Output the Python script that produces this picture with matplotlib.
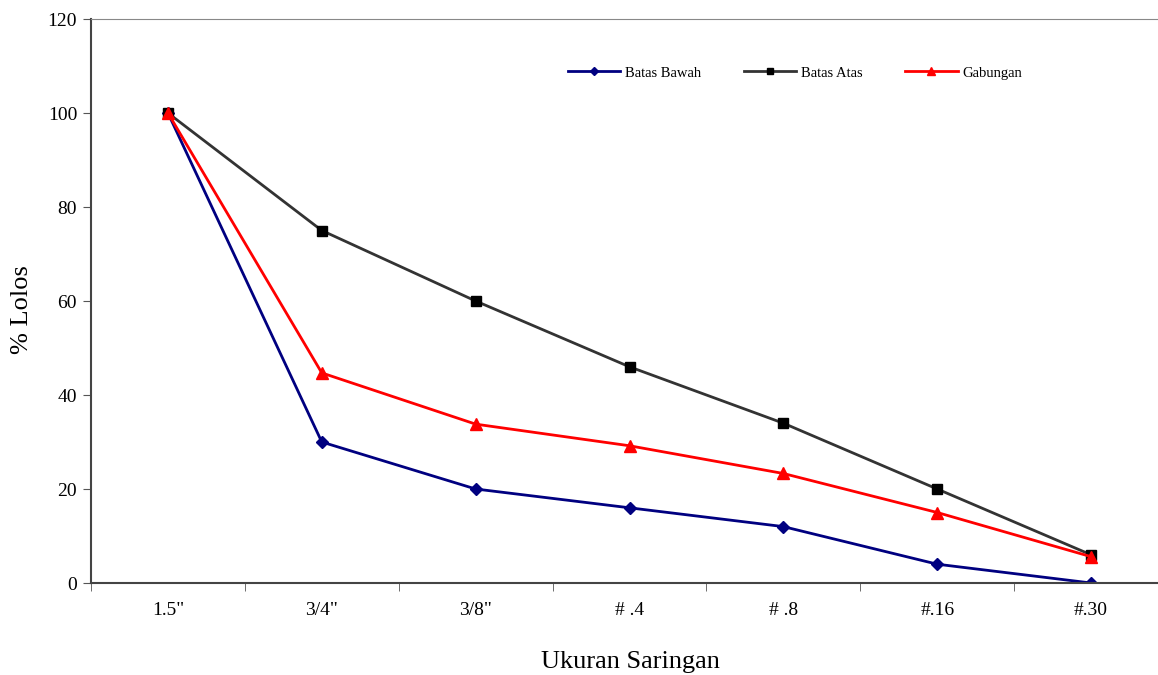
import matplotlib
matplotlib.use('Agg')
import matplotlib.pyplot as plt
import numpy as np

plt.rcParams['font.family'] = ['Liberation Serif', 'DejaVu Serif']

saringan = ['1.5"', '3/4"', '3/8"', '# .4', '# .8', '#.16', '#.30']
batas_bawah = [100, 30, 20, 16, 12, 4, 0]
batas_atas = [100, 75, 60, 46, 34, 20, 6]
gabungan = [100, 44.7, 33.8, 29.2, 23.3, 15.0, 5.6]

x = np.arange(len(saringan))

fig = plt.figure(figsize=(11.58, 6.75), dpi=100)
# axes run a little past the right edge, like the original sheet
ax = fig.add_axes([91/1158, 1 - 583/675, (1168 - 91)/1158, (583 - 19)/675])

ax.plot(x, batas_bawah, color='#000080', lw=2, marker='D', ms=6, label='Batas Bawah')
ax.plot(x, batas_atas, color='#333333', lw=2, marker='s', ms=7,
        mfc='black', mec='black', label='Batas Atas')
ax.plot(x, gabungan, color='red', lw=2, marker='^', ms=8, label='Gabungan')

ax.set_xlim(-0.5, len(saringan) - 0.5)
ax.set_ylim(0, 120)
ax.set_yticks(range(0, 121, 20))
ax.set_xticks(x)
ax.set_xticklabels(saringan, fontsize=14)
ax.set_xticks(np.arange(-0.5, len(saringan), 1), minor=True)
ax.tick_params(axis='x', which='major', length=0, pad=14)
ax.tick_params(axis='x', which='minor', length=6, direction='out', color='#555555')
ax.tick_params(axis='y', length=6, direction='out', labelsize=14, color='#555555', pad=4)

for side in ['left', 'bottom']:
    ax.spines[side].set_color('#444444')
    ax.spines[side].set_linewidth(1.5)
ax.spines['top'].set_color('#888888')
ax.spines['right'].set_visible(False)

ax.set_xlabel('Ukuran Saringan', fontsize=19)
ax.xaxis.set_label_coords((630 - 91)/1077, -(651 - 583)/564)
ax.set_ylabel('% Lolos', fontsize=19)
ax.yaxis.set_label_coords(-(91 - 33)/1077, (583 - 310)/564)

ax.legend(loc='center', bbox_to_anchor=((795 - 91)/1077, (583 - 73)/564), ncol=3,
          frameon=False, fontsize=10.5, handlelength=3.6, handletextpad=0.35,
          columnspacing=2.9, markerscale=0.7)

fig.savefig('out.png', dpi=100)
